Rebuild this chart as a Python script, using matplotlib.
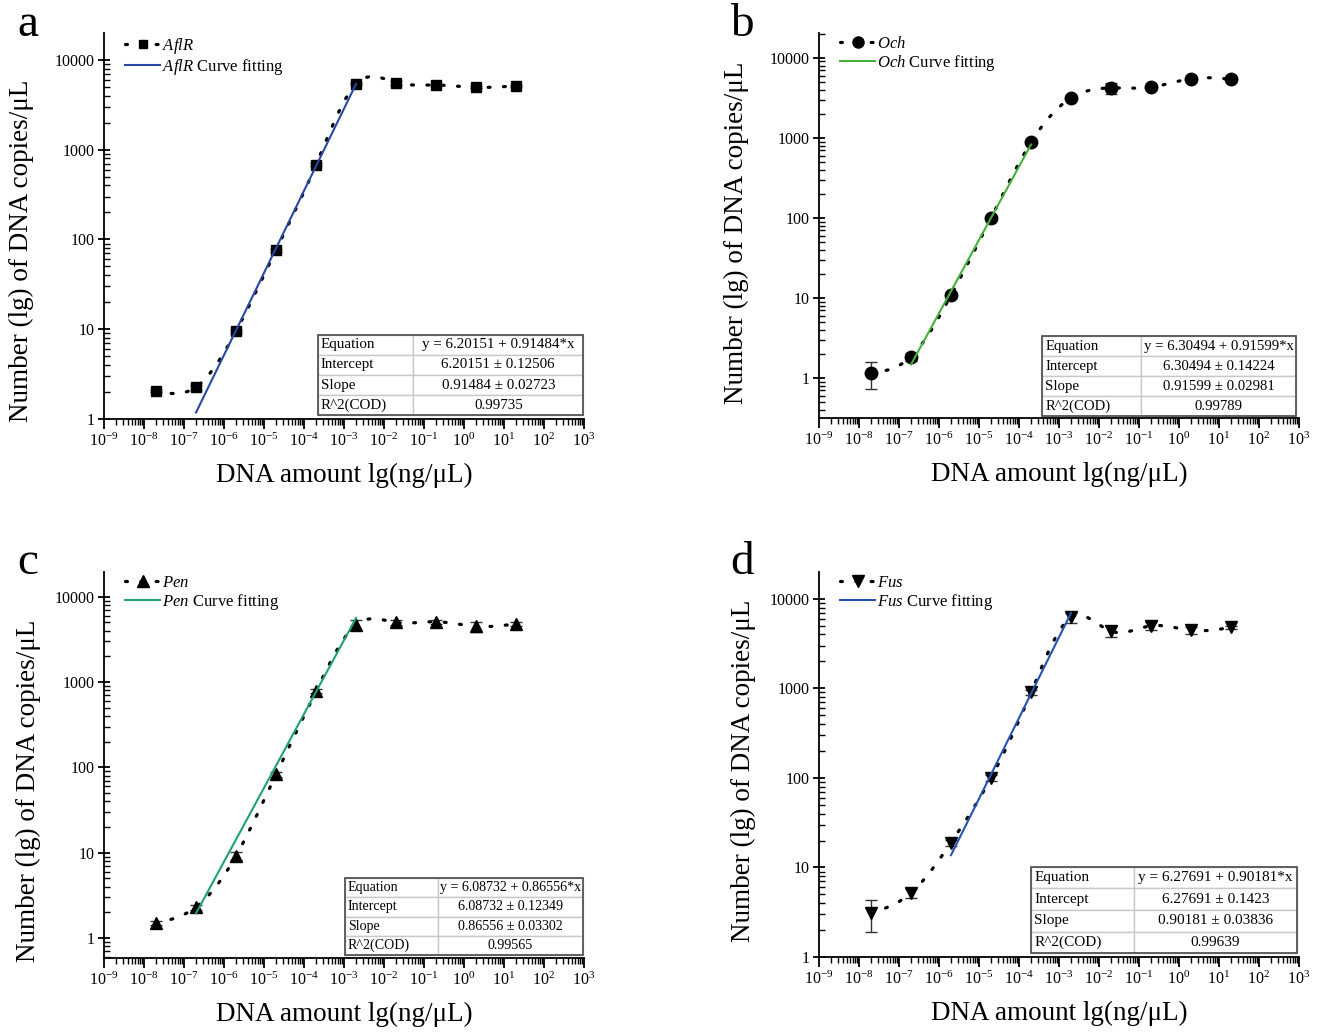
import numpy as np
import matplotlib
matplotlib.use("Agg")
import matplotlib.pyplot as plt
from matplotlib.table import Table
from matplotlib.ticker import FixedLocator, LogLocator, NullFormatter

plt.rcParams['font.family'] = ['Liberation Serif', 'DejaVu Serif']
plt.rcParams['mathtext.fontset'] = 'custom'
plt.rcParams['mathtext.rm'] = 'Liberation Serif'
plt.rcParams['mathtext.it'] = 'Liberation Serif:italic'

# DNA amount (ng/uL), same dilution series for every gene
dna = [2e-8, 2e-7, 2e-6, 2e-5, 2e-4, 2e-3, 2e-2, 2e-1, 2e0, 2e1]

aflr_y = [2.05, 2.27, 9.5, 76, 680, 5400, 5600, 5250, 4950, 5150]
aflr_err = [0.05, 0.15, 0.4, 3, 25, 200, 300, 150, 120, 150]
och_y = [1.15, 1.85, 10.8, 100, 880, 3150, 4200, 4300, 5500, 5400]
och_err = [0.43, 0.2, 0.6, 4, 40, 150, 700, 200, 200, 150]
pen_y = [1.5, 2.3, 9.2, 83, 780, 4700, 5000, 5100, 4500, 4800]
pen_err = [0.1, 0.15, 1.0, 5, 40, 600, 300, 250, 600, 300]
fus_y = [3.1, 5.2, 19, 100, 900, 6200, 4350, 5000, 4450, 4800]
fus_err = [1.2, 0.6, 1.5, 8, 60, 800, 600, 500, 350, 200]

genes = ['AflR', 'Och', 'Pen', 'Fus']
intercepts = [6.20151, 6.30494, 6.08732, 6.27691]
slopes = [0.91484, 0.91599, 0.86556, 0.90181]
intercept_err = ['0.12506', '0.14224', '0.12349', '0.1423']
slope_err = ['0.02723', '0.02981', '0.03302', '0.03836']
r2 = ['0.99735', '0.99789', '0.99565', '0.99639']
fit_range = [(2e-7, 2e-3), (2e-7, 2e-4), (2e-7, 2e-3), (2e-6, 2e-3)]

panel_letters = ['a', 'b', 'c', 'd']
markers = ['s', 'o', '^', 'v']
marker_sizes = [7, 9, 9, 9]
fit_colors = ['#2a47a6', '#45b03a', '#1ea36e', '#2452b2']
ylims = [(1, 10**4.3), (10**-0.5, 10**4.31), (10**-0.235, 10**4.29), (1, 10**4.3)]
series = [(aflr_y, aflr_err), (och_y, och_err), (pen_y, pen_err), (fus_y, fus_err)]

W, H = 1322, 1033
# axes boxes in pixels: left, top, right, bottom
boxes = [(104, 33, 584, 419), (819, 33, 1299, 418),
         (104, 572, 584, 958), (819, 572, 1299, 957)]
# table boxes in axes fraction: x0, y0, x1, y1, first column share, font size
tables = [(0.446, 0.010, 0.998, 0.218, 0.36, 10.8), (0.465, 0.005, 0.994, 0.213, 0.39, 10.6),
          (0.502, 0.008, 0.998, 0.207, 0.39, 10.1), (0.442, 0.010, 0.996, 0.234, 0.387, 11)]
letter_pos = [(28, 25), (742, 25), (28, 563), (742, 563)]
# y label: right edge x and centre y, in pixels
ylabel_pos = [(34, 251), (749, 233), (41, 791), (756, 771)]


def smooth(xs, ys, n=40):
    # natural cubic spline in log-log space (connect line only)
    lx = np.log10(xs)
    ly = np.log10(ys)
    m = len(lx)
    h = np.diff(lx)
    A = np.zeros((m, m))
    b = np.zeros(m)
    A[0, 0] = A[-1, -1] = 1
    for i in range(1, m - 1):
        A[i, i - 1] = h[i - 1]
        A[i, i] = 2 * (h[i - 1] + h[i])
        A[i, i + 1] = h[i]
        b[i] = 3 * ((ly[i + 1] - ly[i]) / h[i] - (ly[i] - ly[i - 1]) / h[i - 1])
    c = np.linalg.solve(A, b)
    outx, outy = [], []
    for i in range(m - 1):
        t = np.linspace(0, h[i], n, endpoint=False)
        bb = (ly[i + 1] - ly[i]) / h[i] - h[i] * (2 * c[i] + c[i + 1]) / 3
        d = (c[i + 1] - c[i]) / (3 * h[i])
        outx.append(lx[i] + t)
        outy.append(ly[i] + bb * t + c[i] * t ** 2 + d * t ** 3)
    outx.append([lx[-1]])
    outy.append([ly[-1]])
    return 10 ** np.concatenate(outx), 10 ** np.concatenate(outy)


dots = (0, (0.6, 4.2))

fig = plt.figure(figsize=(W / 100, H / 100), dpi=100)

for k in range(4):
    l, t, r, btm = boxes[k]
    ax = fig.add_axes([l / W, (H - btm) / H, (r - l) / W, (btm - t) / H])
    yv, ye = series[k]
    g = genes[k]

    sx, sy = smooth(dna, yv)
    ax.plot(sx, sy, color='black', ls=dots, lw=2.3, dash_capstyle='round')
    ax.errorbar(dna, yv, yerr=ye, fmt='none', ecolor='#333333', elinewidth=1, capsize=4, capthick=1)
    ax.plot(dna, yv, ls='none', marker=markers[k], ms=marker_sizes[k], color='black')
    # legend proxy for "line + symbol"
    ax.plot([], [], color='black', ls=dots, lw=2.3, dash_capstyle='round', marker=markers[k],
            ms=marker_sizes[k] - 1, label='$\\it{%s}$' % g)

    fx = np.array(fit_range[k])
    fy = 10 ** (intercepts[k] + slopes[k] * np.log10(fx))
    ax.plot(fx, fy, color=fit_colors[k], lw=1.5, label='$\\it{%s}$ Curve fitting' % g)

    ax.set_xscale('log')
    ax.set_yscale('log')
    ax.set_xlim(1e-9, 1e3)
    ax.set_ylim(*ylims[k])
    ax.xaxis.set_major_locator(FixedLocator([10.0 ** p for p in range(-9, 4)]))
    ax.set_xticklabels(['$10^{%d}$' % p for p in range(-9, 4)])
    ax.xaxis.set_minor_locator(LogLocator(base=10, subs=np.arange(2, 10), numticks=50))
    ax.xaxis.set_minor_formatter(NullFormatter())
    ax.yaxis.set_major_locator(FixedLocator([1, 10, 100, 1000, 10000]))
    ax.set_yticklabels(['1', '10', '100', '1000', '10000'])
    ax.yaxis.set_minor_locator(LogLocator(base=10, subs=np.arange(2, 10), numticks=50))
    ax.yaxis.set_minor_formatter(NullFormatter())

    for s in ['top', 'right']:
        ax.spines[s].set_visible(False)
    for s in ['left', 'bottom']:
        ax.spines[s].set_linewidth(1.3)
    ax.tick_params(axis='x', which='major', direction='out', length=7, width=1.3, labelsize=11.5, pad=3)
    ax.tick_params(axis='x', which='minor', direction='out', length=4, width=1)
    ax.tick_params(axis='y', which='major', direction='inout', length=9, width=1.3, labelsize=11.5, pad=2)
    ax.tick_params(axis='y', which='minor', direction='in', length=4, width=1)

    ax.set_xlabel('DNA amount lg(ng/μL)', fontsize=19.5, labelpad=9)
    ax.set_ylabel('Number (lg) of DNA copies/μL', fontsize=19.5)
    lxp, lyp = ylabel_pos[k]
    ax.yaxis.set_label_coords((lxp - l) / (r - l), (btm - lyp) / (btm - t))

    ax.legend(loc='upper left', bbox_to_anchor=(0.03, 1.01), frameon=False, fontsize=12,
              handlelength=2.1, handletextpad=0.1, labelspacing=0.06, borderaxespad=0)

    x0, y0, x1, y1, share, fs = tables[k]
    tb = Table(ax, bbox=[x0, y0, x1 - x0, y1 - y0])
    rows = [('Equation', 'y = %.5f + %.5f*x' % (intercepts[k], slopes[k])),
            ('Intercept', '%.5f ± %s' % (intercepts[k], intercept_err[k])),
            ('Slope', '%.5f ± %s' % (slopes[k], slope_err[k])),
            ('R^2(COD)', r2[k])]
    for i, (a, b) in enumerate(rows):
        c0 = tb.add_cell(i, 0, share, 0.25, text=a, loc='left')
        c1 = tb.add_cell(i, 1, 1 - share, 0.25, text=b, loc='center')
        for c in (c0, c1):
            c.set_edgecolor('#c8c8c8')
            c.set_linewidth(1)
            c.PAD = 0.03
    tb.auto_set_font_size(False)
    tb.set_fontsize(fs)
    ax.add_table(tb)
    ax.add_patch(plt.Rectangle((x0, y0), x1 - x0, y1 - y0, transform=ax.transAxes,
                               fill=False, ec='#555555', lw=1.3, zorder=5))

    lx, ly = letter_pos[k]
    fig.text(lx / W, 1 - ly / H, panel_letters[k], fontsize=34, ha='center', va='center')

fig.savefig('out.png', dpi=100)
